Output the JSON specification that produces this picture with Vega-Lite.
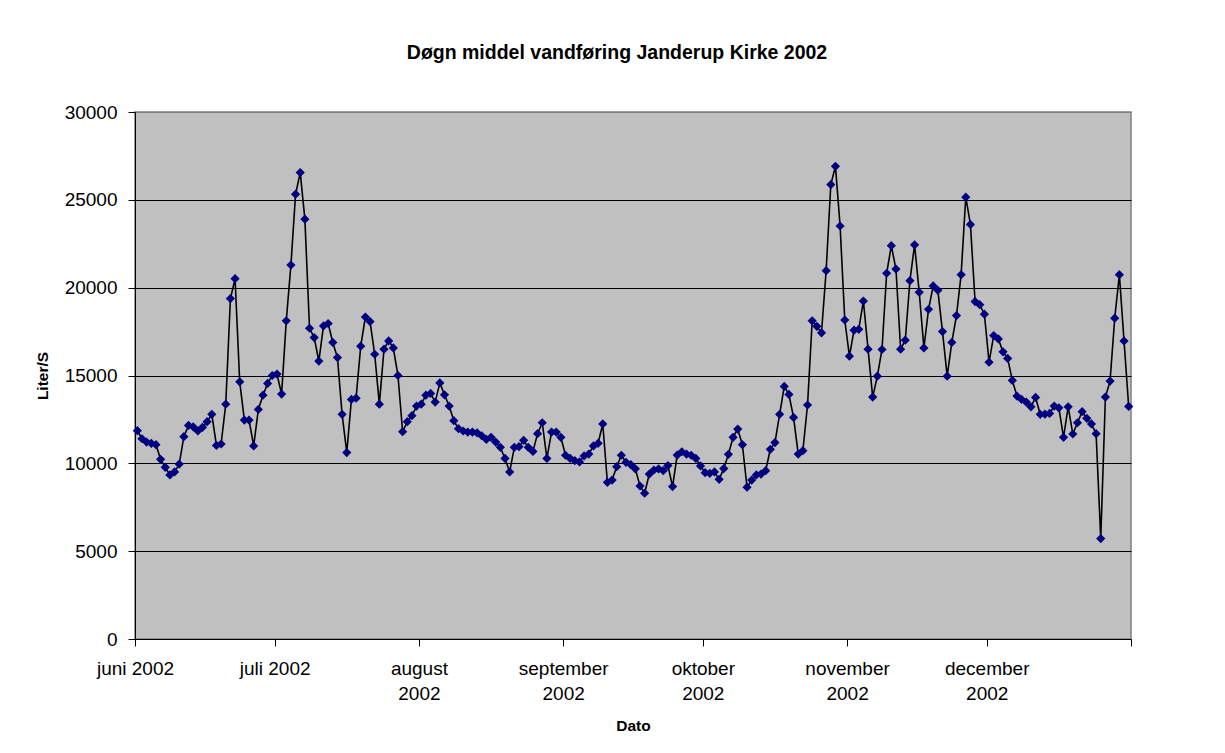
{
  "$schema": "https://vega.github.io/schema/vega-lite/v6.json",
  "autosize": {"type": "none"},
  "padding": {"left": 135, "top": 112, "right": 94, "bottom": 114},
  "width": 996,
  "height": 527,
  "background": "white",
  "title": {
    "text": "Døgn middel vandføring Janderup Kirke 2002",
    "anchor": "middle",
    "dx": -16,
    "offset": 25,
    "baseline": "alphabetic",
    "font": "Liberation Sans",
    "fontSize": 19.5,
    "fontWeight": "bold",
    "color": "#000000"
  },
  "data": {
    "values": [
      {"dato": "2002-06-01", "liter": 11860}, {"dato": "2002-06-02", "liter": 11400}, {"dato": "2002-06-03", "liter": 11210},
      {"dato": "2002-06-04", "liter": 11140}, {"dato": "2002-06-05", "liter": 11060}, {"dato": "2002-06-06", "liter": 10230},
      {"dato": "2002-06-07", "liter": 9770}, {"dato": "2002-06-08", "liter": 9340}, {"dato": "2002-06-09", "liter": 9510},
      {"dato": "2002-06-10", "liter": 9960}, {"dato": "2002-06-11", "liter": 11520}, {"dato": "2002-06-12", "liter": 12160},
      {"dato": "2002-06-13", "liter": 12080}, {"dato": "2002-06-14", "liter": 11840}, {"dato": "2002-06-15", "liter": 12050},
      {"dato": "2002-06-16", "liter": 12370}, {"dato": "2002-06-17", "liter": 12790}, {"dato": "2002-06-18", "liter": 11020},
      {"dato": "2002-06-19", "liter": 11100}, {"dato": "2002-06-20", "liter": 13370}, {"dato": "2002-06-21", "liter": 19380},
      {"dato": "2002-06-22", "liter": 20510}, {"dato": "2002-06-23", "liter": 14640}, {"dato": "2002-06-24", "liter": 12460},
      {"dato": "2002-06-25", "liter": 12460}, {"dato": "2002-06-26", "liter": 10990}, {"dato": "2002-06-27", "liter": 13070},
      {"dato": "2002-06-28", "liter": 13880}, {"dato": "2002-06-29", "liter": 14550}, {"dato": "2002-06-30", "liter": 15000},
      {"dato": "2002-07-01", "liter": 15080}, {"dato": "2002-07-02", "liter": 13940}, {"dato": "2002-07-03", "liter": 18110},
      {"dato": "2002-07-04", "liter": 21290}, {"dato": "2002-07-05", "liter": 25320}, {"dato": "2002-07-06", "liter": 26550},
      {"dato": "2002-07-07", "liter": 23900}, {"dato": "2002-07-08", "liter": 17690}, {"dato": "2002-07-09", "liter": 17160},
      {"dato": "2002-07-10", "liter": 15820}, {"dato": "2002-07-11", "liter": 17820}, {"dato": "2002-07-12", "liter": 17960},
      {"dato": "2002-07-13", "liter": 16880}, {"dato": "2002-07-14", "liter": 16020}, {"dato": "2002-07-15", "liter": 12790},
      {"dato": "2002-07-16", "liter": 10610}, {"dato": "2002-07-17", "liter": 13640}, {"dato": "2002-07-18", "liter": 13710},
      {"dato": "2002-07-19", "liter": 16670}, {"dato": "2002-07-20", "liter": 18330}, {"dato": "2002-07-21", "liter": 18070},
      {"dato": "2002-07-22", "liter": 16210}, {"dato": "2002-07-23", "liter": 13370}, {"dato": "2002-07-24", "liter": 16500},
      {"dato": "2002-07-25", "liter": 16970}, {"dato": "2002-07-26", "liter": 16570}, {"dato": "2002-07-27", "liter": 15000},
      {"dato": "2002-07-28", "liter": 11800}, {"dato": "2002-07-29", "liter": 12370}, {"dato": "2002-07-30", "liter": 12710},
      {"dato": "2002-07-31", "liter": 13260},
      {"dato": "2002-08-01", "liter": 13370}, {"dato": "2002-08-02", "liter": 13880}, {"dato": "2002-08-03", "liter": 13980},
      {"dato": "2002-08-04", "liter": 13490}, {"dato": "2002-08-05", "liter": 14580}, {"dato": "2002-08-06", "liter": 13900},
      {"dato": "2002-08-07", "liter": 13260}, {"dato": "2002-08-08", "liter": 12430}, {"dato": "2002-08-09", "liter": 11970},
      {"dato": "2002-08-10", "liter": 11840}, {"dato": "2002-08-11", "liter": 11780}, {"dato": "2002-08-12", "liter": 11780},
      {"dato": "2002-08-13", "liter": 11740}, {"dato": "2002-08-14", "liter": 11570}, {"dato": "2002-08-15", "liter": 11360},
      {"dato": "2002-08-16", "liter": 11480}, {"dato": "2002-08-17", "liter": 11210}, {"dato": "2002-08-18", "liter": 10910},
      {"dato": "2002-08-19", "liter": 10280}, {"dato": "2002-08-20", "liter": 9510}, {"dato": "2002-08-21", "liter": 10910},
      {"dato": "2002-08-22", "liter": 10950}, {"dato": "2002-08-23", "liter": 11310}, {"dato": "2002-08-24", "liter": 10910},
      {"dato": "2002-08-25", "liter": 10680}, {"dato": "2002-08-26", "liter": 11690}, {"dato": "2002-08-27", "liter": 12310},
      {"dato": "2002-08-28", "liter": 10280}, {"dato": "2002-08-29", "liter": 11780}, {"dato": "2002-08-30", "liter": 11780},
      {"dato": "2002-08-31", "liter": 11480},
      {"dato": "2002-09-01", "liter": 10460}, {"dato": "2002-09-02", "liter": 10280}, {"dato": "2002-09-03", "liter": 10150},
      {"dato": "2002-09-04", "liter": 10080}, {"dato": "2002-09-05", "liter": 10420}, {"dato": "2002-09-06", "liter": 10530},
      {"dato": "2002-09-07", "liter": 10990}, {"dato": "2002-09-08", "liter": 11140}, {"dato": "2002-09-09", "liter": 12240},
      {"dato": "2002-09-10", "liter": 8920}, {"dato": "2002-09-11", "liter": 9050}, {"dato": "2002-09-12", "liter": 9810},
      {"dato": "2002-09-13", "liter": 10460}, {"dato": "2002-09-14", "liter": 10060}, {"dato": "2002-09-15", "liter": 9930},
      {"dato": "2002-09-16", "liter": 9690}, {"dato": "2002-09-17", "liter": 8710}, {"dato": "2002-09-18", "liter": 8300},
      {"dato": "2002-09-19", "liter": 9390}, {"dato": "2002-09-20", "liter": 9620}, {"dato": "2002-09-21", "liter": 9680},
      {"dato": "2002-09-22", "liter": 9580}, {"dato": "2002-09-23", "liter": 9870}, {"dato": "2002-09-24", "liter": 8680},
      {"dato": "2002-09-25", "liter": 10470}, {"dato": "2002-09-26", "liter": 10660}, {"dato": "2002-09-27", "liter": 10530},
      {"dato": "2002-09-28", "liter": 10460}, {"dato": "2002-09-29", "liter": 10280}, {"dato": "2002-09-30", "liter": 9850},
      {"dato": "2002-10-01", "liter": 9470}, {"dato": "2002-10-02", "liter": 9430}, {"dato": "2002-10-03", "liter": 9510},
      {"dato": "2002-10-04", "liter": 9090}, {"dato": "2002-10-05", "liter": 9700}, {"dato": "2002-10-06", "liter": 10510},
      {"dato": "2002-10-07", "liter": 11480}, {"dato": "2002-10-08", "liter": 11950}, {"dato": "2002-10-09", "liter": 11060},
      {"dato": "2002-10-10", "liter": 8640}, {"dato": "2002-10-11", "liter": 9050}, {"dato": "2002-10-12", "liter": 9340},
      {"dato": "2002-10-13", "liter": 9390}, {"dato": "2002-10-14", "liter": 9580}, {"dato": "2002-10-15", "liter": 10800},
      {"dato": "2002-10-16", "liter": 11180}, {"dato": "2002-10-17", "liter": 12790}, {"dato": "2002-10-18", "liter": 14380},
      {"dato": "2002-10-19", "liter": 13920}, {"dato": "2002-10-20", "liter": 12610}, {"dato": "2002-10-21", "liter": 10530},
      {"dato": "2002-10-22", "liter": 10720}, {"dato": "2002-10-23", "liter": 13320}, {"dato": "2002-10-24", "liter": 18110},
      {"dato": "2002-10-25", "liter": 17800}, {"dato": "2002-10-26", "liter": 17430}, {"dato": "2002-10-27", "liter": 20970},
      {"dato": "2002-10-28", "liter": 25870}, {"dato": "2002-10-29", "liter": 26910}, {"dato": "2002-10-30", "liter": 23510},
      {"dato": "2002-10-31", "liter": 18160},
      {"dato": "2002-11-01", "liter": 16100}, {"dato": "2002-11-02", "liter": 17580}, {"dato": "2002-11-03", "liter": 17630},
      {"dato": "2002-11-04", "liter": 19240}, {"dato": "2002-11-05", "liter": 16500}, {"dato": "2002-11-06", "liter": 13770},
      {"dato": "2002-11-07", "liter": 14960}, {"dato": "2002-11-08", "liter": 16480}, {"dato": "2002-11-09", "liter": 20820},
      {"dato": "2002-11-10", "liter": 22390}, {"dato": "2002-11-11", "liter": 21060}, {"dato": "2002-11-12", "liter": 16500},
      {"dato": "2002-11-13", "liter": 17010}, {"dato": "2002-11-14", "liter": 20400}, {"dato": "2002-11-15", "liter": 22440},
      {"dato": "2002-11-16", "liter": 19740}, {"dato": "2002-11-17", "liter": 16570}, {"dato": "2002-11-18", "liter": 18770},
      {"dato": "2002-11-19", "liter": 20100}, {"dato": "2002-11-20", "liter": 19850}, {"dato": "2002-11-21", "liter": 17500},
      {"dato": "2002-11-22", "liter": 14960}, {"dato": "2002-11-23", "liter": 16880}, {"dato": "2002-11-24", "liter": 18410},
      {"dato": "2002-11-25", "liter": 20740}, {"dato": "2002-11-26", "liter": 25150}, {"dato": "2002-11-27", "liter": 23600},
      {"dato": "2002-11-28", "liter": 19210}, {"dato": "2002-11-29", "liter": 19030}, {"dato": "2002-11-30", "liter": 18490},
      {"dato": "2002-12-01", "liter": 15760}, {"dato": "2002-12-02", "liter": 17270}, {"dato": "2002-12-03", "liter": 17080},
      {"dato": "2002-12-04", "liter": 16350}, {"dato": "2002-12-05", "liter": 15970}, {"dato": "2002-12-06", "liter": 14720},
      {"dato": "2002-12-07", "liter": 13830}, {"dato": "2002-12-08", "liter": 13640}, {"dato": "2002-12-09", "liter": 13490},
      {"dato": "2002-12-10", "liter": 13220}, {"dato": "2002-12-11", "liter": 13750}, {"dato": "2002-12-12", "liter": 12790},
      {"dato": "2002-12-13", "liter": 12800}, {"dato": "2002-12-14", "liter": 12840}, {"dato": "2002-12-15", "liter": 13260},
      {"dato": "2002-12-16", "liter": 13160}, {"dato": "2002-12-17", "liter": 11480}, {"dato": "2002-12-18", "liter": 13220},
      {"dato": "2002-12-19", "liter": 11670}, {"dato": "2002-12-20", "liter": 12310}, {"dato": "2002-12-21", "liter": 12940},
      {"dato": "2002-12-22", "liter": 12560}, {"dato": "2002-12-23", "liter": 12240}, {"dato": "2002-12-24", "liter": 11690},
      {"dato": "2002-12-25", "liter": 5720}, {"dato": "2002-12-26", "liter": 13770}, {"dato": "2002-12-27", "liter": 14680},
      {"dato": "2002-12-28", "liter": 18260}, {"dato": "2002-12-29", "liter": 20740}, {"dato": "2002-12-30", "liter": 16970},
      {"dato": "2002-12-31", "liter": 13240}
    ]
  },
  "encoding": {
    "x": {
      "field": "dato",
      "type": "temporal",
      "timeUnit": "utcyearmonthdate",
      "bandPosition": 0.5,
      "scale": {
        "type": "utc",
        "nice": false,
        "domain": [
          {"year": 2002, "month": 6, "date": 1, "utc": true},
          {"year": 2003, "month": 1, "date": 1, "utc": true}
        ]
      },
      "axis": {
        "title": "Dato",
        "titleFontSize": 15.5,
        "titleFontWeight": "bold",
        "titleColor": "#000000",
        "titleY": 86,
        "titleBaseline": "middle",
        "values": [
          {"year": 2002, "month": 6, "date": 1, "utc": true},
          {"year": 2002, "month": 7, "date": 1, "utc": true},
          {"year": 2002, "month": 8, "date": 1, "utc": true},
          {"year": 2002, "month": 9, "date": 1, "utc": true},
          {"year": 2002, "month": 10, "date": 1, "utc": true},
          {"year": 2002, "month": 11, "date": 1, "utc": true},
          {"year": 2002, "month": 12, "date": 1, "utc": true},
          {"year": 2003, "month": 1, "date": 1, "utc": true}
        ],
        "labelExpr": "utcmonth(datum.value) == 5 ? 'juni 2002' : utcmonth(datum.value) == 6 ? 'juli 2002' : utcmonth(datum.value) == 7 ? ['august', '2002'] : utcmonth(datum.value) == 8 ? ['september', '2002'] : utcmonth(datum.value) == 9 ? ['oktober', '2002'] : utcmonth(datum.value) == 10 ? ['november', '2002'] : utcmonth(datum.value) == 11 ? ['december', '2002'] : ''",
        "labelFontSize": 19,
        "labelColor": "#000000",
        "labelPadding": 13,
        "labelLineHeight": 25,
        "labelBaseline": "top",
        "labelOverlap": false,
        "labelFlush": false,
        "labelBound": false,
        "tickSize": 7,
        "tickColor": "#000000",
        "domainColor": "#000000",
        "grid": false
      }
    },
    "y": {
      "field": "liter",
      "type": "quantitative",
      "scale": {"domain": [0, 30000], "nice": false, "zero": true},
      "axis": {
        "title": "Liter/S",
        "titleFontSize": 15.5,
        "titleFontWeight": "bold",
        "titleColor": "#000000",
        "titleX": -93,
        "titleY": 263.5,
        "titleAlign": "center",
        "titleBaseline": "middle",
        "values": [0, 5000, 10000, 15000, 20000, 25000, 30000],
        "format": "d",
        "labelFontSize": 19,
        "labelColor": "#000000",
        "labelPadding": 11,
        "labelBaseline": "middle",
        "labelOverlap": false,
        "labelFlush": false,
        "tickSize": 7,
        "tickColor": "#000000",
        "domainColor": "#000000",
        "grid": true,
        "gridColor": {"condition": {"test": "datum.value >= 30000", "value": "#808080"}, "value": "#000000"},
        "gridWidth": 1
      }
    }
  },
  "layer": [
    {"mark": {"type": "line", "color": "#000000", "strokeWidth": 1.6}},
    {"mark": {"type": "point", "shape": "diamond", "filled": true, "color": "#000080", "size": 85, "opacity": 1}}
  ],
  "config": {
    "font": "Liberation Sans",
    "view": {"fill": "#C0C0C0", "stroke": "#808080", "strokeWidth": 1.5}
  }
}
